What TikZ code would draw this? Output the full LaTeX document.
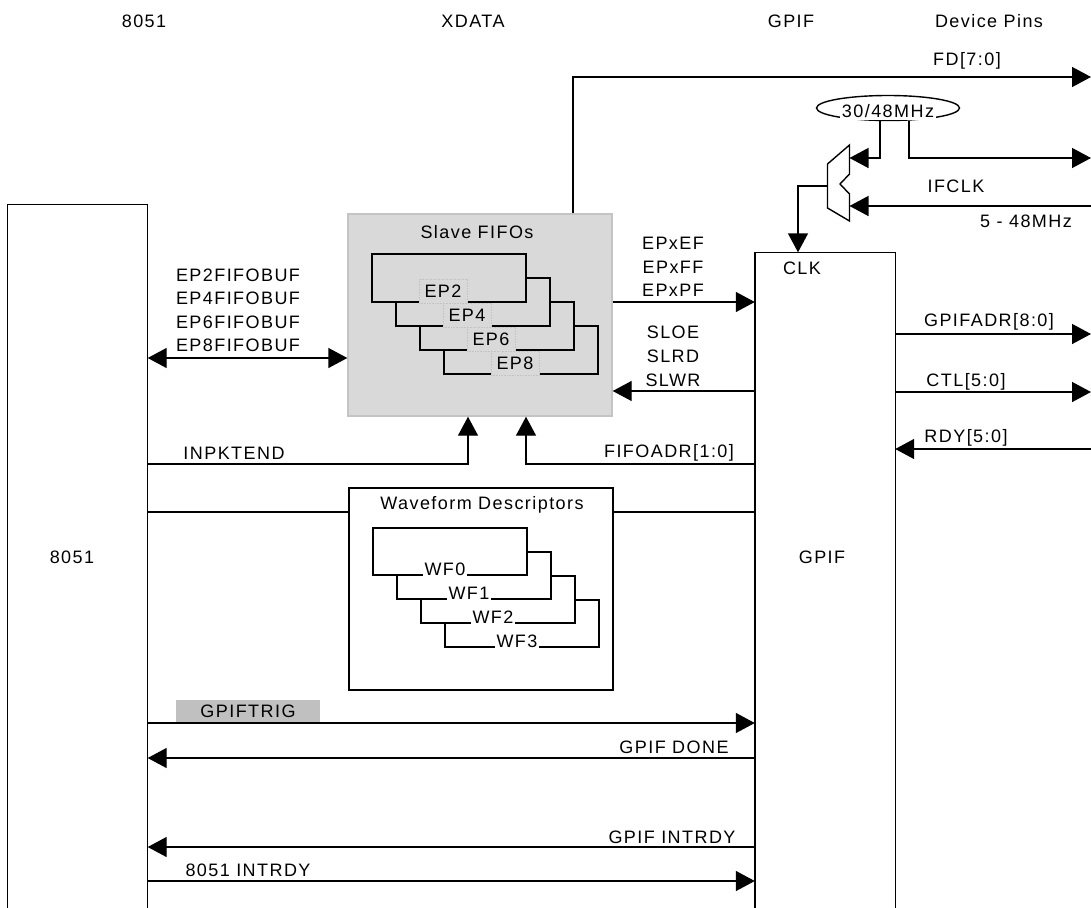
\documentclass[tikz,border=0pt]{standalone}
\usepackage{fontspec}
\setmainfont{Liberation Sans}[LetterSpace=8]
\usetikzlibrary{arrows.meta,calc,positioning,shapes.geometric}
\definecolor{fifofill}{HTML}{D9D9D9}
\definecolor{fifoline}{HTML}{C4C4C4}
\definecolor{trigfill}{HTML}{C0C0C0}

\begin{document}
\begin{tikzpicture}[x=1pt,y=-1pt,line width=1.4pt,>={Triangle[length=19pt,width=20pt]},
  every node/.style={font=\fontsize{18}{22}\selectfont,inner sep=0pt},
  blk/.style={minimum width=139,minimum height=#1},
  eplabel/.style={fill=fifofill,draw=fifoline,densely dotted,line width=0.6pt,minimum width=48,minimum height=24},
  wflabel/.style={fill=white,inner xsep=2pt,inner ysep=2pt,anchor=base}]
  \useasboundingbox (0,0) rectangle (1091,907);
  % column headings
  \node (h8051) at (144,21) {8051};
  \node (hxdata) at (473,21) {XDATA};
  \node (hgpif) at (791,21) {GPIF};
  \node (hpins) at (989,21) {Device Pins};

  % 8051 and GPIF blocks, open at the bottom
  \node[blk=702] (mcu) at (77.5,556) {};
  \node[blk=654] (gpif) at (825,580) {};
  \draw (mcu.south west) -- (mcu.north west) -- (mcu.north east) -- (mcu.south east);
  \draw (gpif.south west) -- (gpif.north west) -- (gpif.north east) -- (gpif.south east);
  \node (mculbl) at (72,557) {8051};
  \node (gpiflbl) at (822,557) {GPIF};
  \node (clklbl) at (802,268) {CLK};

  % slave FIFOs
  \node[fill=fifofill,draw=fifoline,minimum width=264,minimum height=202] (slave) at (480,315) {};
  \node (slavelbl) at (477,232) {Slave FIFOs};
  \foreach \i in {3,2,1,0}
    \draw[fill=fifofill] (372+24*\i,254+24*\i) rectangle ++(154,48);
  \foreach \i/\n in {0/2,1/4,2/6,3/8}
    \node[eplabel] (ep\n) at (443+24*\i,291+24*\i) {EP\n};

  % waveform descriptors
  \node[draw,fill=white,minimum width=264,minimum height=202] (wave) at (481,589) {};
  \node (wavelbl) at (482,505) {Waveform Descriptors};
  \foreach \i in {3,2,1,0}
    \draw[fill=white] (373+24*\i,528+24*\i) rectangle ++(154,47);
  \foreach \i in {0,1,2,3}
    \node[wflabel] (wf\i) at (445+24*\i,575+24*\i) {WF\i};

  % clock source and mux
  \node[draw,ellipse,minimum width=143,minimum height=25] (osc) at (888,108) {};
  \node[fill=white,inner xsep=2pt,inner ysep=3pt,anchor=base] (osclbl) at (888,117) {30/48MHz};
  \draw[fill=white] (849.5,145) -- (849.5,174) -- (840,184) -- (849.5,194) -- (849.5,221)
    -- (827.5,208) -- (827.5,164) -- cycle;
  \coordinate (muxa) at (849.5,158);
  \coordinate (muxb) at (849.5,206);
  \coordinate (muxo) at (827.5,186);
  \draw[->] (osc.south -| 880,0) -- (880,158) -- (muxa);
  \draw[->] (osc.south -| 909,0) -- (909,158) -- (1091,158);
  \draw[->] (1091,206) -- (muxb);
  \draw[->] (muxo) -- (798,186) -- (gpif.north -| 798,0);
  \node (ifclk) at (956,186) {IFCLK};
  \node (ifrange) at (1026,221) {5 - 48MHz};

  % FIFO data to the pins
  \draw[->] (slave.north -| 573,0) -- (573,77) -- (1091,77);
  \node (fdlbl) at (967,61) {FD[7:0]};

  % 8051 to the FIFOs
  \draw[<->] (mcu.east |- 0,358) -- (slave.west |- 0,358);
  \foreach \n/\y in {2/275,4/298,6/322,8/345}
    \node (buf\n) at (238,\y) {EP\n FIFOBUF};
  \draw[->] (mcu.east |- 0,464) -- (468,464) -- (slave.south -| 468,0);
  \node (inpkt) at (234,453) {INPKTEND};
  \draw[->] (gpif.west |- 0,464) -- (526,464) -- (slave.south -| 526,0);
  \node (fifoadr) at (669,453) {FIFOADR[1:0]};

  % flags and strobes between FIFOs and GPIF
  \draw[->] (slave.east |- 0,302) -- (gpif.west |- 0,302);
  \foreach \t/\y in {EPxEF/243,EPxFF/267,EPxPF/290}
    \node at (673,\y) {\t};
  \draw[->] (gpif.west |- 0,391) -- (slave.east |- 0,391);
  \foreach \t/\y in {SLOE/332,SLRD/356,SLWR/380}
    \node at (673,\y) {\t};

  % waveform memory bus
  \draw (mcu.east |- 0,512) -- (wave.west |- 0,512);
  \draw (wave.east |- 0,512) -- (gpif.west |- 0,512);

  % GPIF to the pins
  \draw[->] (gpif.east |- 0,334) -- (1091,334);
  \node (adrlbl) at (989,322) {GPIFADR[8:0]};
  \draw[->] (gpif.east |- 0,392) -- (1091,392);
  \node (ctllbl) at (966,382) {CTL[5:0]};
  \draw[->] (1091,449) -- (gpif.east |- 0,449);
  \node (rdylbl) at (966,438) {RDY[5:0]};

  % handshakes between 8051 and GPIF
  \node[fill=trigfill,minimum width=144,minimum height=23] (trig) at (248,711.5) {GPIFTRIG};
  \draw[->] (mcu.east |- 0,723) -- (gpif.west |- 0,723);
  \draw[->] (gpif.west |- 0,758) -- (mcu.east |- 0,758);
  \node (donelbl) at (674,747) {GPIF DONE};
  \draw[->] (gpif.west |- 0,847) -- (mcu.east |- 0,847);
  \node (gintlbl) at (672,837) {GPIF INTRDY};
  \draw[->] (mcu.east |- 0,881) -- (gpif.west |- 0,881);
  \node (mintlbl) at (248,870) {8051 INTRDY};
\end{tikzpicture}
\end{document}
